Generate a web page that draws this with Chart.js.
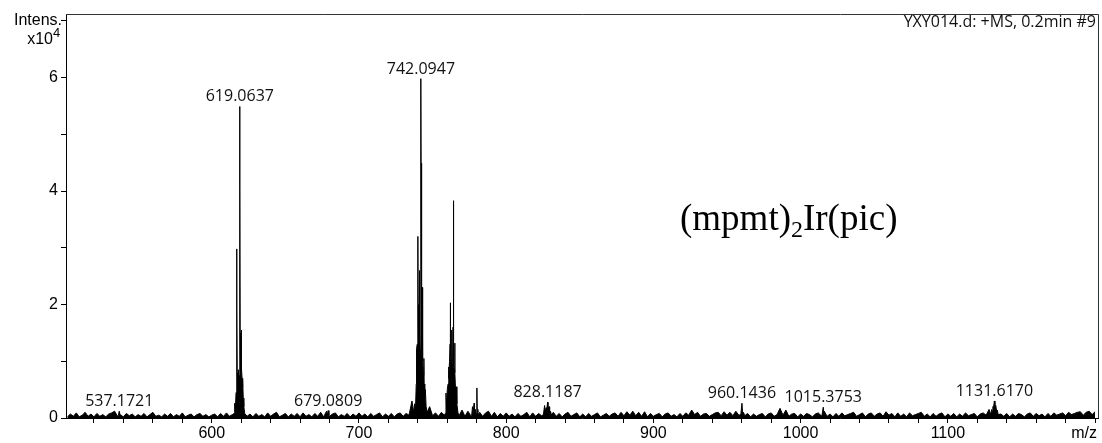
<!DOCTYPE html>
<html>
<head>
<meta charset="utf-8">
<script src="https://cdn.jsdelivr.net/npm/chart.js@4/dist/chart.umd.min.js"></script>
<style>
  html, body { margin: 0; padding: 0; background: #fff; }
  #wrap { width: 1102px; height: 443px; position: relative; }
</style>
</head>
<body>
<div id="wrap"><canvas id="ms"></canvas></div>
<script>
// baseline noise, intensity x10^4, one value every 2 m/z from 502 to 1200
const baselineStart = 502;
const baselineStep = 2;
const baseline = [
  0.02,0.07,0.03,0.09,0.02,0.05,0.10,0.03,0.07,0.02,0.08,0.03,0.06,0.02,0.07,0.09,0.12,0.03,0.06,0.02,0.08,0.04,0.07,0.02,0.06,
  0.03,0.08,0.02,0.06,0.10,0.03,0.05,0.02,0.07,0.03,0.08,0.02,0.06,0.03,0.09,0.02,0.05,0.07,0.02,0.06,0.08,0.03,0.06,0.02,0.05,
  0.07,0.02,0.08,0.03,0.09,0.03,0.06,0.20,0.50,0.60,0.30,0.03,0.07,0.02,0.08,0.03,0.06,0.02,0.09,0.03,0.07,0.10,0.02,0.05,0.08,
  0.02,0.07,0.03,0.08,0.02,0.09,0.03,0.06,0.02,0.08,0.03,0.10,0.02,0.12,0.03,0.07,0.09,0.02,0.06,0.03,0.08,0.02,0.07,0.03,0.09,
  0.03,0.07,0.02,0.08,0.03,0.06,0.09,0.02,0.07,0.03,0.08,0.02,0.07,0.09,0.03,0.08,0.05,0.30,1.00,3.00,5.00,1.00,0.50,0.20,0.04,
  0.09,0.03,0.10,0.05,0.50,1.00,2.00,1.00,0.04,0.14,0.03,0.12,0.04,0.15,0.30,0.10,0.03,0.09,0.12,0.03,0.10,0.02,0.08,0.03,0.09,
  0.03,0.07,0.02,0.08,0.03,0.06,0.10,0.02,0.09,0.03,0.08,0.04,0.20,0.25,0.15,0.10,0.03,0.08,0.02,0.07,0.10,0.03,0.06,0.09,0.02,
  0.07,0.02,0.08,0.03,0.06,0.09,0.02,0.05,0.08,0.03,0.07,0.09,0.03,0.10,0.04,0.11,0.05,0.12,0.04,0.10,0.03,0.11,0.02,0.08,0.03,
  0.06,0.08,0.02,0.07,0.09,0.03,0.06,0.02,0.08,0.03,0.09,0.05,0.14,0.06,0.10,0.03,0.07,0.08,0.03,0.06,0.09,0.10,0.04,0.11,0.05,
  0.10,0.04,0.12,0.05,0.20,0.04,0.08,0.02,0.07,0.03,0.06,0.08,0.02,0.07,0.09,0.03,0.06,0.17,0.05,0.14,0.03,0.07,0.08,0.02,0.07,
  0.03,0.08,0.06,0.02,0.07,0.09,0.04,0.12,0.03,0.07,0.02,0.08,0.03,0.09,0.04,0.06,0.08,0.10,0.03,0.06,0.09,0.02,0.07,0.09,0.03,
  0.07,0.09,0.03,0.11,0.05,0.08,0.02,0.09,0.03,0.07,0.02,0.09,0.04,0.06,0.08,0.10,0.03,0.07,0.02,0.08,0.03,0.07,0.09,0.02,0.07,
  0.03,0.08,0.02,0.07,0.03,0.09,0.04,0.06,0.08,0.02,0.07,0.09,0.05,0.15,0.22,0.18,0.04,0.07,0.03,0.08,0.02,0.07,0.03,0.08,0.06,
  0.02,0.07,0.09,0.03,0.08,0.04,0.07,0.02,0.08,0.03,0.09,0.05,0.07,0.09,0.04,0.10,0.06,0.08,0.10,0.11,0.05,0.10,0.12,0.06,0.11
];

// peak profiles [m/z, intensity x10^4]
const peak537 = [[536.6,0.05],[537.17,0.12],[537.7,0.06]];
const peak619 = [[615.2,0.08],[615.6,0.26],[616.0,0.12],[616.5,0.45],[616.9,1.2],[617.0,2.98],[617.1,1.9],[617.3,0.8],
  [617.6,0.55],[617.9,0.7],[618.05,0.85],[618.2,0.6],[618.6,0.75],[618.95,2.1],[619.06,5.49],[619.15,4.11],[619.3,1.5],
  [619.6,0.8],[619.9,1.0],[620.07,1.55],[620.2,0.9],[620.6,0.7],[620.9,0.55],[621.1,0.7],[621.4,0.35],[621.8,0.2],[622.4,0.08]];
const peak679 = [[678.5,0.05],[679.08,0.13],[679.6,0.05]];
const peak742 = [[737.2,0.1],[737.8,0.25],[738.4,0.15],[738.9,0.6],[739.1,1.2],[739.5,1.3],[739.9,3.02],[740.09,3.2],
  [740.2,2.0],[740.5,1.1],[740.8,1.4],[741.09,2.6],[741.25,1.5],[741.6,1.2],[741.95,2.3],[742.09,5.98],[742.2,4.49],
  [742.4,1.9],[742.7,1.3],[743.0,2.3],[743.1,1.9],[743.4,1.0],[743.8,0.75],[744.1,1.05],[744.3,0.6],[744.7,0.45],
  [745.1,0.5],[745.6,0.2],[746.3,0.1]];
const peak764 = [[758.6,0.08],[759.1,0.44],[759.5,0.2],[760.0,0.5],[760.5,0.6],[760.9,0.9],[761.1,0.7],[761.5,1.0],
  [761.9,1.3],[762.07,2.03],[762.2,1.1],[762.6,1.0],[763.0,1.55],[763.2,0.9],[763.6,1.0],[763.9,1.6],[764.07,3.83],
  [764.2,2.2],[764.5,0.9],[764.9,0.85],[765.07,1.32],[765.2,0.8],[765.6,0.5],[766.1,0.55],[766.5,0.25],[767.2,0.1]];
const peak780 = [[776.6,0.05],[777.1,0.2],[777.5,0.08],[778.2,0.26],[778.5,0.1],[779.2,0.15],[779.6,0.08],[780.1,0.53],
  [780.3,0.15],[780.8,0.1],[781.3,0.05]];
const peak828 = [[825.3,0.06],[826.1,0.22],[826.5,0.1],[827.1,0.18],[827.5,0.12],[828.12,0.28],[828.4,0.1],[829.1,0.2],
  [829.5,0.08],[830.1,0.12],[830.8,0.05]];
const peak960 = [[959.4,0.06],[960.14,0.26],[960.6,0.08],[961.2,0.1]];
const peak1015 = [[1014.6,0.06],[1015.38,0.19],[1015.9,0.06]];
const peak1131 = [[1129.2,0.06],[1129.8,0.15],[1130.2,0.12],[1130.6,0.2],[1131.0,0.18],[1131.62,0.3],[1132.0,0.2],
  [1132.6,0.22],[1133.1,0.12],[1133.6,0.14],[1134.2,0.06]];

// annotated peaks
const labelMz = [537.1721, 619.0637, 679.0809, 742.0947, 828.1187, 960.1436, 1015.3753, 1131.6170];
const labelIntensity = [0.12, 5.49, 0.13, 5.98, 0.28, 0.26, 0.19, 0.30];

const xTicks = [520,540,560,580,600,620,640,660,680,700,720,740,760,780,800,820,840,860,880,900,
  920,940,960,980,1000,1020,1040,1060,1080,1100,1120,1140,1160,1180,1200];
const yTicks = [0,1,2,3,4,5,6,7];

const title = 'YXY014.d: +MS, 0.2min #9';

// merge baseline with peak profiles
const clusters = [peak537, peak619, peak679, peak742, peak764, peak780, peak828, peak960, peak1015, peak1131];
const spectrum = [];
baseline.forEach((v, i) => {
  const mz = baselineStart + i * baselineStep;
  const inside = clusters.some(c => mz >= c[0][0] && mz <= c[c.length - 1][0]);
  if (!inside) spectrum.push({ x: mz, y: v });
});
clusters.forEach(c => c.forEach(p => spectrum.push({ x: p[0], y: p[1] })));
spectrum.sort((a, b) => a.x - b.x);

const axisFont = { family: '"Liberation Sans", Arial, sans-serif', size: 16 };

const annotations = {
  id: 'annotations',
  afterDraw(chart) {
    const { ctx, chartArea: a, scales: { x, y } } = chart;
    ctx.save();
    // frame top and right
    ctx.strokeStyle = '#333';
    ctx.lineWidth = 1;
    ctx.beginPath();
    ctx.moveTo(a.left, a.top + 0.5);
    ctx.lineTo(a.right + 0.5, a.top + 0.5);
    ctx.lineTo(a.right + 0.5, a.bottom);
    ctx.stroke();

    // peak labels
    ctx.fillStyle = '#111';
    ctx.font = '16px "Open Sans", sans-serif';
    ctx.textAlign = 'center';
    ctx.textBaseline = 'alphabetic';
    labelMz.forEach((mz, i) => {
      ctx.fillText(mz.toFixed(4), x.getPixelForValue(mz), y.getPixelForValue(labelIntensity[i]) - 5);
    });

    // title
    ctx.textAlign = 'right';
    ctx.font = '16px "Open Sans", sans-serif';
    ctx.fillText(title, a.right - 2, a.top + 13);

    // axis captions
    ctx.fillStyle = '#000';
    ctx.font = '16px "Liberation Sans", Arial, sans-serif';
    ctx.textBaseline = 'middle';
    ctx.textAlign = 'right';
    ctx.fillText('Intens.', a.left - 4, y.getPixelForValue(7));
    ctx.fillText('x10', a.left - 13, y.getPixelForValue(7) + 19);
    ctx.textAlign = 'left';
    ctx.font = '13px "Liberation Sans", Arial, sans-serif';
    ctx.fillText('4', a.left - 13, y.getPixelForValue(7) + 13);
    ctx.font = '16px "Liberation Sans", Arial, sans-serif';
    ctx.textAlign = 'right';
    ctx.fillText('m/z', a.right - 1, a.bottom + 16);

    // compound name
    ctx.fillStyle = '#000';
    ctx.textAlign = 'left';
    ctx.textBaseline = 'alphabetic';
    let tx = 680, ty = 230;
    ctx.font = '37px "Liberation Serif", "Times New Roman", serif';
    ctx.fillText('(mpmt)', tx, ty);
    tx += ctx.measureText('(mpmt)').width;
    ctx.font = '24px "Liberation Serif", "Times New Roman", serif';
    ctx.fillText('2', tx, ty + 7);
    tx += ctx.measureText('2').width;
    ctx.font = '37px "Liberation Serif", "Times New Roman", serif';
    ctx.fillText('Ir(pic)', tx, ty);
    ctx.restore();
  }
};

new Chart(document.getElementById('ms'), {
  type: 'line',
  data: {
    datasets: [{
      data: spectrum,
      borderColor: '#000',
      backgroundColor: '#000',
      borderWidth: 1,
      pointRadius: 0,
      tension: 0,
      fill: 'origin'
    }]
  },
  options: {
    responsive: true,
    maintainAspectRatio: false,
    animation: false,
    layout: { padding: { top: 14, right: 4, left: 0, bottom: 0 } },
    plugins: {
      legend: { display: false },
      tooltip: { enabled: false }
    },
    scales: {
      x: {
        type: 'linear',
        min: 501,
        max: 1202,
        afterBuildTicks: s => { s.ticks = xTicks.map(v => ({ value: v })); },
        afterFit: s => { s.height = 25; },
        ticks: {
          autoSkip: false,
          maxRotation: 0,
          padding: 1,
          color: '#000',
          font: axisFont,
          callback: v => (v % 100 === 0 && v < 1200) ? String(v) : ''
        },
        grid: { drawOnChartArea: false, drawTicks: true, tickLength: 5, color: '#000' },
        border: { display: true, color: '#000', width: 1 }
      },
      y: {
        min: 0,
        max: 7.12,
        afterBuildTicks: s => { s.ticks = yTicks.map(v => ({ value: v })); },
        afterFit: s => { s.width = 66; },
        ticks: {
          padding: 3,
          color: '#000',
          font: axisFont,
          callback: v => (v % 2 === 0 && v < 7) ? String(v) : ''
        },
        grid: { drawOnChartArea: false, drawTicks: true, tickLength: 5, color: '#000' },
        border: { display: true, color: '#000', width: 1 }
      }
    }
  },
  plugins: [annotations]
});
</script>
</body>
</html>
